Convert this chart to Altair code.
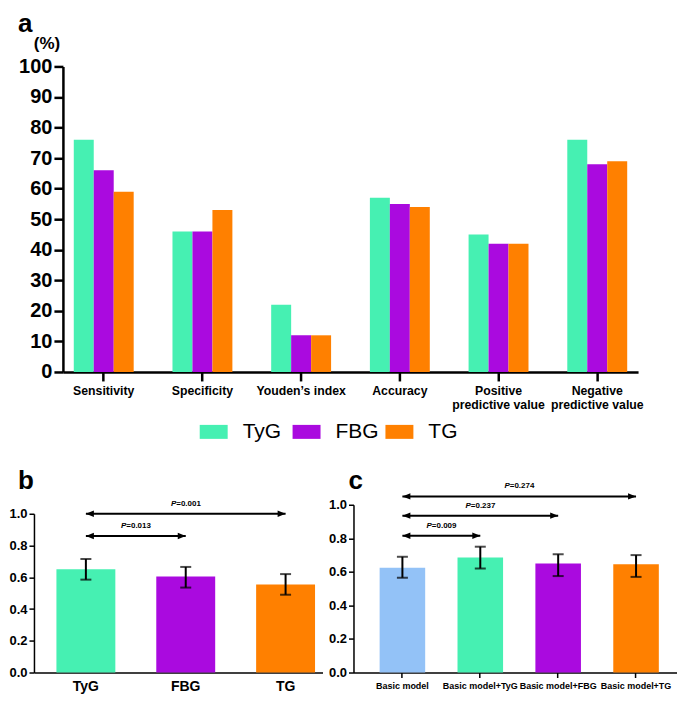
import altair as alt
import pandas as pd

FONT = "Liberation Sans"

# ---------------- panel a data ----------------
metrics = ["Sensitivity", "Specificity", "Youden’s index", "Accuracy",
           "Positive predictive value", "Negative predictive value"]
series = ["TyG", "FBG", "TG"]
tyg_pct = [76, 46, 22, 57, 45, 76]
fbg_pct = [66, 46, 12, 55, 42, 68]
tg_pct = [59, 53, 12, 54, 42, 69]
pct_ticks = [0, 10, 20, 30, 40, 50, 60, 70, 80, 90, 100]
unit_label = ["(%)"]

# ---------------- panel b data ----------------
markers_b = ["TyG", "FBG", "TG"]
auc_b = [0.65, 0.605, 0.555]
lo_b = [0.585, 0.535, 0.49]
hi_b = [0.715, 0.665, 0.62]
cmp_b_from = ["TyG", "TyG"]
cmp_b_to = ["FBG", "TG"]
cmp_b_p = ["0.013", "0.001"]
cmp_b_y = [0.86, 1.0]

# ---------------- panel c data ----------------
models_c = ["Basic model", "Basic model+TyG", "Basic model+FBG", "Basic model+TG"]
auc_c = [0.625, 0.685, 0.65, 0.645]
lo_c = [0.565, 0.62, 0.575, 0.57]
hi_c = [0.69, 0.75, 0.705, 0.70]
cmp_c_from = ["Basic model", "Basic model", "Basic model"]
cmp_c_to = ["Basic model+TyG", "Basic model+FBG", "Basic model+TG"]
cmp_c_p = ["0.009", "0.237", "0.274"]
cmp_c_y = [0.815, 0.935, 1.05]
auc_ticks = [0, 0.2, 0.4, 0.6, 0.8, 1.0]

panel_letters = ["a", "b", "c"]

# colours
C_TYG = "#46F0B2"
C_FBG = "#AA0ADF"
C_TG = "#FF8000"
C_BASIC = "#93C2F7"
colors_a = [C_TYG, C_FBG, C_TG]
colors_b = [C_TYG, C_FBG, C_TG]
colors_c = [C_BASIC, C_TYG, C_FBG, C_TG]


def letter_mark(letter, x, y):
    return alt.Chart(pd.DataFrame({"t": [letter]})).mark_text(
        font=FONT, fontWeight="bold", fontSize=26, align="left", baseline="alphabetic",
        color="black").encode(x=alt.value(x), y=alt.value(y), text="t:N")


# ---------------- panel a ----------------
rows = []
for s, vals in zip(series, [tyg_pct, fbg_pct, tg_pct]):
    for m, v in zip(metrics, vals):
        rows.append({"metric": m, "series": s, "value": v})
df_a = pd.DataFrame(rows)

A_SHIFT = 29      # panel a axis sits to the right of panel b's axis
A_WIDTH = 605

label_expr_a = ("test(/ predictive value$/, datum.label) ? "
                "[replace(datum.label, ' predictive value', ''), 'predictive value'] : datum.label")

x_a = alt.X("metric:N", sort=metrics, title=None,
            scale=alt.Scale(domain=metrics, paddingInner=0.393, paddingOuter=0.11,
                            range=[A_SHIFT, A_WIDTH]),
            axis=alt.Axis(labelAngle=0, labelFont=FONT, labelFontWeight="bold", labelFontSize=12.3,
                          labelColor="black", domainColor="black", domainWidth=2.5,
                          tickColor="black", tickWidth=2.5, tickSize=9, labelPadding=4,
                          labelExpr=label_expr_a, labelLineHeight=14))
y_a = alt.Y("value:Q", title=None, scale=alt.Scale(domain=[0, 100], nice=False),
            axis=alt.Axis(values=pct_ticks, grid=False, labelFont=FONT, labelFontWeight="bold",
                          labelFontSize=20, labelColor="black", domainColor="black",
                          domainWidth=2.5, tickColor="black", tickWidth=2.5, tickSize=9,
                          labelPadding=2, offset=-A_SHIFT))

bars_a = alt.Chart(df_a).mark_bar().encode(
    x=x_a,
    xOffset=alt.XOffset("series:N", sort=series,
                        scale=alt.Scale(domain=series, paddingInner=0, paddingOuter=0)),
    y=y_a,
    color=alt.Color("series:N", sort=series,
                    scale=alt.Scale(domain=series, range=colors_a),
                    legend=alt.Legend(title=None, orient="none", legendX=166, legendY=352,
                                      direction="horizontal", columns=3, gridAlign="all",
                                      columnPadding=6, padding=0,
                                      symbolType="M-1,-0.5L1,-0.5L1,0.5L-1,0.5Z",
                                      symbolSize=784, symbolStrokeWidth=0,
                                      labelFont=FONT, labelFontSize=21, labelOffset=15,
                                      labelColor="black")),
)

unit_text = alt.Chart(pd.DataFrame({"t": unit_label})).mark_text(
    font=FONT, fontWeight="bold", fontSize=17, align="center", baseline="middle", color="black"
).encode(x=alt.value(13), y=alt.value(-22), text="t:N")

panel_a = alt.layer(bars_a, unit_text,
                    letter_mark(panel_letters[0], -16, -34)).properties(width=A_WIDTH, height=306)


# ---------------- helper for b / c ----------------
def auc_panel(cats, auc, lo, hi, cols, cfrom, cto, cp, cy, width, height, yrange,
              pad_inner, pad_outer, align, xlabel_size, xticks, letter, letter_dx, key):
    df = pd.DataFrame({key: cats, "auc": auc, "lo": lo, "hi": hi})
    xscale = alt.Scale(domain=cats, paddingInner=pad_inner, paddingOuter=pad_outer, align=align)
    xaxis = alt.Axis(labelAngle=0, labelFont=FONT, labelFontWeight="bold", labelFontSize=xlabel_size,
                     labelColor="black", domainColor="black", domainWidth=1.5,
                     ticks=xticks, tickColor="black", tickWidth=1.5, tickSize=5,
                     labelPadding=(4 if xticks else 7))
    yscale = alt.Scale(domain=[0, 1], nice=False, range=yrange)
    yaxis = alt.Axis(values=auc_ticks, format=".1f", grid=False, labelFont=FONT,
                     labelFontWeight="bold", labelFontSize=13, labelColor="black",
                     domainColor="black", domainWidth=1.5, tickColor="black",
                     tickWidth=1.5, tickSize=5, labelPadding=2)

    def X(field):
        return alt.X(f"{field}:N", sort=cats, scale=xscale, axis=xaxis, title=None)

    def Y(field):
        return alt.Y(f"{field}:Q", scale=yscale, axis=yaxis, title=None)

    base = alt.Chart(df)
    bars = base.mark_bar().encode(
        x=X(key), y=Y("auc"),
        color=alt.Color(f"{key}:N", scale=alt.Scale(domain=cats, range=cols), legend=None))
    err = base.mark_rule(color="black", strokeWidth=2).encode(x=X(key), y=Y("lo"), y2="hi")
    cap_lo = base.mark_tick(color="black", thickness=2, size=11).encode(x=X(key), y=Y("lo"))
    cap_hi = base.mark_tick(color="black", thickness=2, size=11).encode(x=X(key), y=Y("hi"))
    layers = [bars, err, cap_lo, cap_hi]

    # comparison arrows
    step = width / (len(cats) - pad_inner + 2 * pad_outer)
    for f, t, p, yv in zip(cfrom, cto, cp, cy):
        d = alt.Chart(pd.DataFrame({"f": [f], "t": [t], "y": [yv], "p": ["=" + p], "P": ["P"]}))
        half = (cats.index(t) - cats.index(f)) * step / 2
        layers.append(d.mark_rule(color="black", strokeWidth=2).encode(x=X("f"), x2="t", y=Y("y")))
        layers.append(d.mark_point(shape="M0,0L2,-0.8L2,0.8Z", filled=True, size=64,
                                   color="black", opacity=1).encode(x=X("f"), y=Y("y")))
        layers.append(d.mark_point(shape="M0,0L-2,-0.8L-2,0.8Z", filled=True, size=64,
                                   color="black", opacity=1).encode(x=X("t"), y=Y("y")))
        layers.append(d.mark_text(font=FONT, fontSize=8, fontStyle="italic", fontWeight="bold",
                                  align="right", baseline="middle", dx=half - 9.5, dy=-10,
                                  color="black").encode(x=X("f"), y=Y("y"), text="P:N"))
        layers.append(d.mark_text(font=FONT, fontSize=8, fontWeight="bold",
                                  align="left", baseline="middle", dx=half - 9.5, dy=-10,
                                  color="black").encode(x=X("f"), y=Y("y"), text="p:N"))
    layers.append(letter_mark(letter, letter_dx, -16))

    return alt.layer(*layers).properties(width=width, height=height)


panel_b = auc_panel(markers_b, auc_b, lo_b, hi_b, colors_b, cmp_b_from, cmp_b_to, cmp_b_p, cmp_b_y,
                    width=289, height=168, yrange=[168, 9], pad_inner=0.41, pad_outer=0.15,
                    align=0.75, xlabel_size=14, xticks=False, letter=panel_letters[1],
                    letter_dx=-16, key="marker")
panel_c = auc_panel(models_c, auc_c, lo_c, hi_c, colors_c, cmp_c_from, cmp_c_to, cmp_c_p, cmp_c_y,
                    width=324, height=168, yrange=[168, 0], pad_inner=0.415, pad_outer=0.2845,
                    align=0.59, xlabel_size=9, xticks=True, letter=panel_letters[2],
                    letter_dx=-5, key="model")

bottom = alt.hconcat(panel_b, panel_c, spacing=5).resolve_scale(
    color="independent", x="independent", y="independent")

chart = alt.concat(panel_a, bottom, columns=1, spacing=26, align="none").resolve_scale(
    color="independent", x="independent", y="independent"
).properties(
    padding={"left": 0, "top": 3, "right": 0, "bottom": 0}
).configure_view(stroke=None)

chart.save("out.html", embed_options={"renderer": "svg", "actions": False})
